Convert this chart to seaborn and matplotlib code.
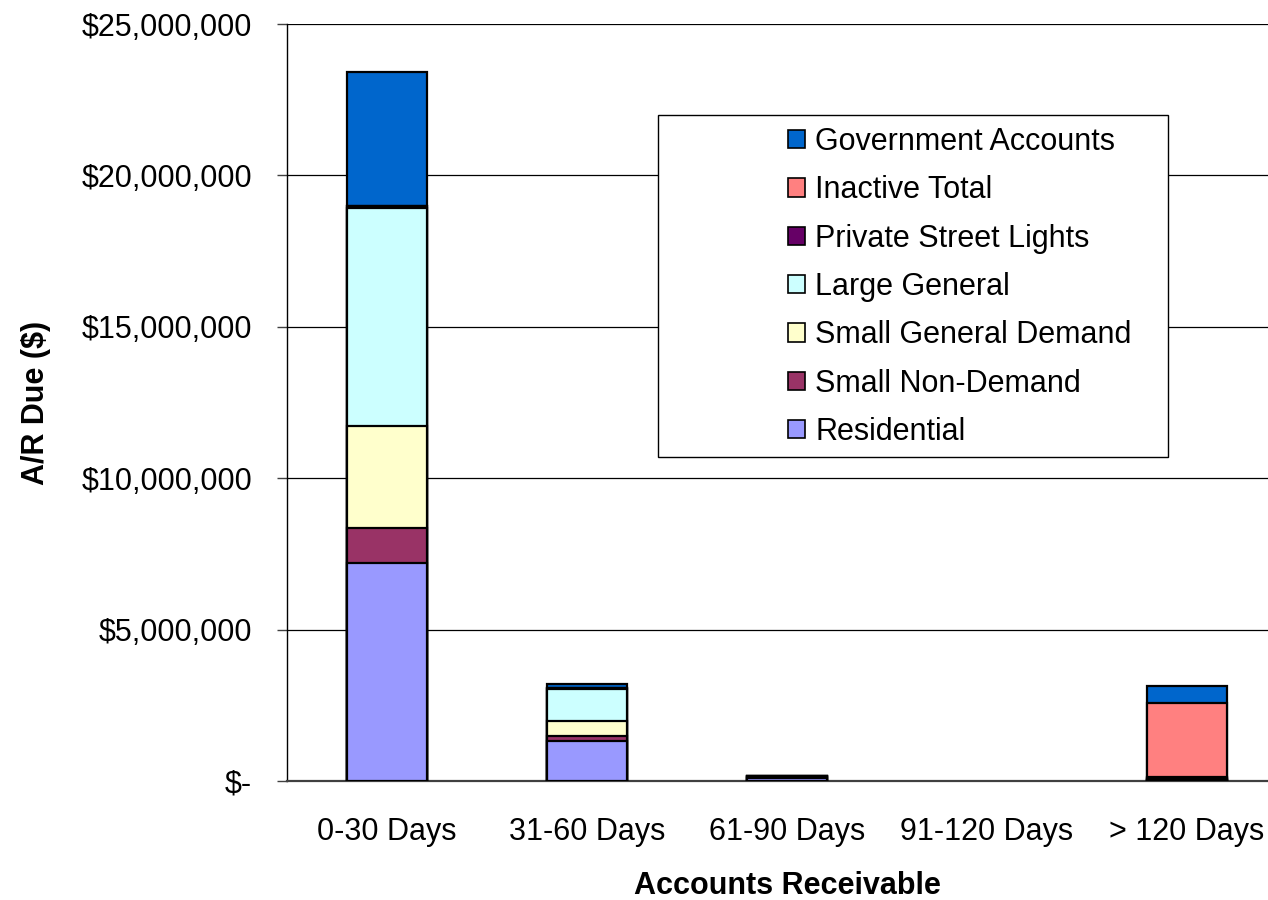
import matplotlib
matplotlib.use("Agg")
import matplotlib.pyplot as plt
from matplotlib.patches import Patch, Rectangle
from matplotlib.ticker import FuncFormatter, FixedLocator
import numpy as np
import pandas as pd
import seaborn as sns

# Aging buckets and the receivable balance of each customer class (dollars)
buckets = ["0-30 Days", "31-60 Days", "61-90 Days", "91-120 Days", "> 120 Days"]
residential = [7_200_000, 1_320_000, 110_000, 0, 30_000]
small_non_demand = [1_160_000, 170_000, 15_000, 0, 10_000]
small_general_demand = [3_370_000, 490_000, 15_000, 0, 20_000]
large_general = [7_200_000, 1_070_000, 25_000, 0, 30_000]
private_street_lights = [70_000, 10_000, 5_000, 0, 30_000]
inactive_total = [0, 0, 0, 0, 2_470_000]
government_accounts = [4_420_000, 130_000, 10_000, 0, 560_000]

# Stacking order, bottom to top
series = [
    ("Residential", residential, "#9999FF"),
    ("Small Non-Demand", small_non_demand, "#993366"),
    ("Small General Demand", small_general_demand, "#FFFFCC"),
    ("Large General", large_general, "#CCFFFF"),
    ("Private Street Lights", private_street_lights, "#660066"),
    ("Inactive Total", inactive_total, "#FF8080"),
    ("Government Accounts", government_accounts, "#0066CC"),
]

df = pd.DataFrame({"bucket": buckets})
running = np.zeros(len(buckets))
for name, vals, _ in series:
    running = running + np.array(vals, dtype=float)
    df[name] = running.copy()

sns.set_theme(style="white")
plt.rcParams["font.family"] = ["Liberation Sans", "DejaVu Sans"]
plt.rcParams["text.color"] = "black"

fig = plt.figure(figsize=(12.68, 9.0), dpi=100)
ax = fig.add_axes([287 / 1268, (900 - 781) / 900, 1000 / 1268, 757 / 900])

# Draw cumulative totals from the top layer down so each lower layer overlays the one above
for name, vals, color in reversed(series):
    n_before = len(ax.patches)
    sns.barplot(data=df, x="bucket", y=name, order=buckets, color=color,
                saturation=1, width=0.4, edgecolor="black", linewidth=1.6,
                errorbar=None, ax=ax)
    for p, v in zip(ax.patches[n_before:], df[name]):
        if v == 0:
            p.set_linewidth(0)
        p.set_zorder(3)

ax.set_ylim(0, 25_000_000)
ax.set_xlim(-0.5, 4.5)
ax.yaxis.set_major_locator(FixedLocator(np.arange(0, 25_000_001, 5_000_000)))
ax.yaxis.set_major_formatter(FuncFormatter(lambda v, _: "$-" if v == 0 else f"${v:,.0f}"))

ax.grid(axis="y", color="black", linewidth=0.9)
ax.grid(axis="x", visible=False)
ax.set_axisbelow(True)

for side in ("top", "right"):
    ax.spines[side].set_visible(False)
ax.spines["left"].set_color("black")
ax.spines["left"].set_linewidth(1.0)
ax.spines["bottom"].set_color("#404040")
ax.spines["bottom"].set_linewidth(1.6)

ax.set_xticks(np.arange(-0.5, 5.0, 1.0), minor=True)
ax.tick_params(axis="x", which="major", length=0, pad=26, labelsize=22, colors="black")
ax.tick_params(axis="x", which="minor", length=8, width=1, color="#404040", direction="out")
ax.tick_params(axis="y", which="major", length=7, width=1, color="#404040",
               direction="out", left=True, pad=18, labelsize=22, labelcolor="black")

ax.set_xlabel("Accounts Receivable", fontsize=22, fontweight="bold", labelpad=17, color="black")
ax.set_ylabel("A/R Due ($)", fontsize=22, fontweight="bold", labelpad=22, color="black")

# Legend with its own framed box
box = Rectangle((0.371, 0.428), 0.51, 0.452, transform=ax.transAxes,
                facecolor="white", edgecolor="black", linewidth=1.0, zorder=5)
ax.add_patch(box)
handles = [Patch(facecolor=c, edgecolor="black", linewidth=1.2, label=n)
           for n, _, c in reversed(series)]
leg = ax.legend(handles=handles, loc="upper left", bbox_to_anchor=(0.501, 0.864),
                frameon=False, fontsize=22, handlelength=0.55, handleheight=0.55,
                handletextpad=0.35, labelspacing=0.6, borderpad=0, borderaxespad=0,
                labelcolor="black")
leg.set_zorder(6)

fig.savefig("out.png", dpi=100)
